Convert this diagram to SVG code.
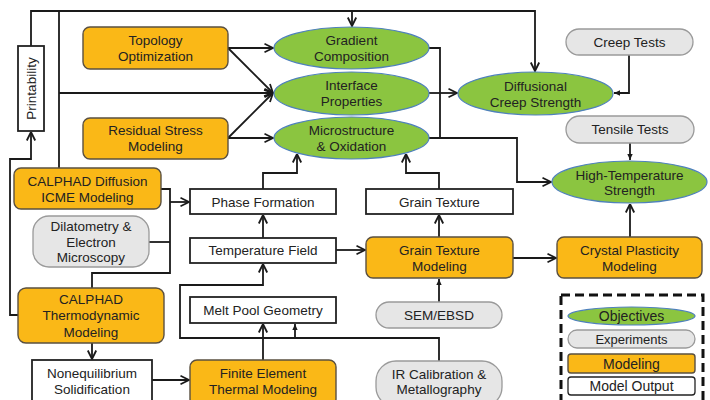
<svg xmlns="http://www.w3.org/2000/svg" width="710" height="400" viewBox="0 0 710 400">
  <defs>
    <style>
      text { font-family: "Liberation Sans", Arial, sans-serif; font-size: 13.5px; fill: #222; text-anchor: middle; }
      .legend text { font-size: 14px; }
      .legend text.small { font-size: 13px; }
      .obj { fill: #8BC540; stroke: #4F81BD; stroke-width: 1.2; }
      .exp { fill: #E6E6E6; stroke: #9A9A9A; stroke-width: 1.3; }
      .mod { fill: #FAB817; stroke: #5A5040; stroke-width: 1.4; }
      .out { fill: #FFFFFF; stroke: #222; stroke-width: 1.8; }
      .wire { fill: none; stroke: #1A1A1A; stroke-width: 1.8; }
      .open { marker-end: url(#open); }
      .solid { marker-end: url(#solid); }
    </style>
    <marker id="open" viewBox="0 0 10 10" refX="9.5" refY="5" markerWidth="10" markerHeight="10" markerUnits="userSpaceOnUse" orient="auto">
      <path d="M1,0.8 L9.5,5 L1,9.2" fill="none" stroke="#1A1A1A" stroke-width="1.8"/>
    </marker>
    <marker id="solid" viewBox="0 0 10 10" refX="9" refY="5" markerWidth="7" markerHeight="7" markerUnits="userSpaceOnUse" orient="auto">
      <path d="M0,1 L9,5 L0,9 Z" fill="#1A1A1A"/>
    </marker>
  </defs>

  <!-- connectors -->
  <g id="connectors">
    <path class="wire open" d="M31,46 V11 H535 V71"/>
    <path class="wire open" d="M352,11 V26"/>
    <path class="wire" d="M59,11 V168"/>
    <path class="wire open" d="M59,93 H273"/>
    <path class="wire open" d="M18,315 H10 V159 H31 V132"/>
    <path class="wire open" d="M228,48 H273"/>
    <path class="wire open" d="M228,48 L273,93"/>
    <path class="wire open" d="M228,138 H273"/>
    <path class="wire open" d="M228,138 L273,93"/>
    <path class="wire" d="M429,48 H440 V138"/>
    <path class="wire open" d="M429,138 H517 V182 H551"/>
    <path class="wire open" d="M429,93 H457"/>
    <path class="wire solid" d="M629,55 V93 H614"/>
    <path class="wire solid" d="M630,143 V160"/>
    <path class="wire open" d="M630,237 V204"/>
    <path class="wire open" d="M513,258 H556"/>
    <path class="wire open" d="M336,250 H365"/>
    <path class="wire open" d="M439,237 V215"/>
    <path class="wire open" d="M439,189 V173 H406 V154"/>
    <path class="wire open" d="M263,189 V173 H297 V154"/>
    <path class="wire open" d="M263,238 V215"/>
    <path class="wire" d="M161,189 H170 V273 H92 V288"/>
    <path class="wire" d="M149,242 H170"/>
    <path class="wire open" d="M170,202 H189"/>
    <path class="wire open" d="M92,343 V359"/>
    <path class="wire open" d="M152,380 H189"/>
    <path class="wire open" d="M263,360 V324"/>
    <path class="wire open" d="M439,361 V338 H180 V285 H263 V264"/>
    <path class="wire solid" d="M295,338 V324"/>
    <path class="wire solid" d="M439,302 V279"/>
  </g>

  <!-- objectives -->
  <g id="gradient-composition">
    <ellipse class="obj" cx="351.5" cy="48" rx="77.5" ry="21"/>
    <text x="351.5" y="45">Gradient</text>
    <text x="351.5" y="61">Composition</text>
  </g>
  <g id="interface-properties">
    <ellipse class="obj" cx="351.5" cy="93.5" rx="77.5" ry="21.5"/>
    <text x="351.5" y="90">Interface</text>
    <text x="351.5" y="106">Properties</text>
  </g>
  <g id="microstructure-oxidation">
    <ellipse class="obj" cx="351.5" cy="138" rx="77.5" ry="21"/>
    <text x="351.5" y="135">Microstructure</text>
    <text x="351.5" y="151">&amp; Oxidation</text>
  </g>
  <g id="diffusional-creep-strength">
    <ellipse class="obj" cx="535.5" cy="93.5" rx="77.5" ry="21.5"/>
    <text x="535.5" y="91">Diffusional</text>
    <text x="535.5" y="107">Creep Strength</text>
  </g>
  <g id="high-temperature-strength">
    <ellipse class="obj" cx="629.5" cy="182" rx="77.5" ry="21"/>
    <text x="629.5" y="180">High-Temperature</text>
    <text x="629.5" y="195">Strength</text>
  </g>

  <!-- experiments -->
  <g id="creep-tests">
    <rect class="exp" x="566" y="29" width="127" height="26" rx="13"/>
    <text x="629.5" y="47">Creep Tests</text>
  </g>
  <g id="tensile-tests">
    <rect class="exp" x="566" y="116" width="128" height="27" rx="13.5"/>
    <text x="630" y="134">Tensile Tests</text>
  </g>
  <g id="dilatometry">
    <rect class="exp" x="33" y="216" width="116" height="51" rx="16"/>
    <text x="91" y="231">Dilatometry &amp;</text>
    <text x="91" y="247">Electron</text>
    <text x="91" y="262">Microscopy</text>
  </g>
  <g id="sem-ebsd">
    <rect class="exp" x="376" y="302" width="126" height="26" rx="13"/>
    <text x="439" y="320">SEM/EBSD</text>
  </g>
  <g id="ir-calibration">
    <rect class="exp" x="376" y="361" width="126" height="46" rx="20"/>
    <text x="439" y="379">IR Calibration &amp;</text>
    <text x="439" y="394">Metallography</text>
  </g>

  <!-- modeling -->
  <g id="topology-optimization">
    <rect class="mod" x="83" y="27" width="145" height="42" rx="7"/>
    <text x="155.5" y="45">Topology</text>
    <text x="155.5" y="61">Optimization</text>
  </g>
  <g id="residual-stress-modeling">
    <rect class="mod" x="83" y="118" width="145" height="41" rx="7"/>
    <text x="155.5" y="135">Residual Stress</text>
    <text x="155.5" y="151">Modeling</text>
  </g>
  <g id="calphad-diffusion">
    <rect class="mod" x="14" y="168" width="147" height="41" rx="7"/>
    <text x="87.5" y="186">CALPHAD Diffusion</text>
    <text x="87.5" y="202">ICME Modeling</text>
  </g>
  <g id="calphad-thermodynamic">
    <rect class="mod" x="18" y="288" width="146" height="55" rx="8"/>
    <text x="91" y="304">CALPHAD</text>
    <text x="91" y="320">Thermodynamic</text>
    <text x="91" y="337">Modeling</text>
  </g>
  <g id="finite-element">
    <rect class="mod" x="190" y="360" width="146" height="46" rx="7"/>
    <text x="263" y="378">Finite Element</text>
    <text x="263" y="394">Thermal Modeling</text>
  </g>
  <g id="grain-texture-modeling">
    <rect class="mod" x="366" y="237" width="147" height="41" rx="7"/>
    <text x="439.5" y="255">Grain Texture</text>
    <text x="439.5" y="271">Modeling</text>
  </g>
  <g id="crystal-plasticity">
    <rect class="mod" x="557" y="237" width="145" height="41" rx="7"/>
    <text x="629.5" y="255">Crystal Plasticity</text>
    <text x="629.5" y="271">Modeling</text>
  </g>

  <!-- model outputs -->
  <g id="printability">
    <rect class="out" x="18" y="46" width="26" height="85"/>
    <text x="31" y="88.5" transform="rotate(-90 31 88.5)" dy="5">Printability</text>
  </g>
  <g id="phase-formation">
    <rect class="out" x="190" y="189" width="146" height="25"/>
    <text x="263" y="206.5">Phase Formation</text>
  </g>
  <g id="temperature-field">
    <rect class="out" x="190" y="238" width="146" height="25"/>
    <text x="263" y="255">Temperature Field</text>
  </g>
  <g id="melt-pool-geometry">
    <rect class="out" x="190" y="297" width="146" height="26"/>
    <text x="263" y="315">Melt Pool Geometry</text>
  </g>
  <g id="grain-texture">
    <rect class="out" x="366" y="189" width="147" height="25"/>
    <text x="439.5" y="206.5">Grain Texture</text>
  </g>
  <g id="nonequilibrium-solidification">
    <rect class="out" x="32" y="360" width="120" height="46"/>
    <text x="92" y="378">Nonequilibrium</text>
    <text x="92" y="394">Solidification</text>
  </g>

  <!-- legend -->
  <g id="legend" class="legend">
    <rect x="561" y="295" width="142" height="115" fill="none" stroke="#111" stroke-width="3" stroke-dasharray="9 5"/>
    <ellipse class="obj" cx="631.5" cy="316" rx="63.5" ry="9"/>
    <text x="631.5" y="321">Objectives</text>
    <rect class="exp" x="568" y="330" width="127" height="18" rx="9"/>
    <text class="small" x="631.5" y="343.5">Experiments</text>
    <rect class="mod" x="568" y="354" width="127" height="19" rx="3"/>
    <text x="631.5" y="368.5">Modeling</text>
    <rect class="out" x="568" y="377" width="127" height="18" rx="3" style="stroke-width:1.3"/>
    <text x="631.5" y="391">Model Output</text>
  </g>
</svg>
